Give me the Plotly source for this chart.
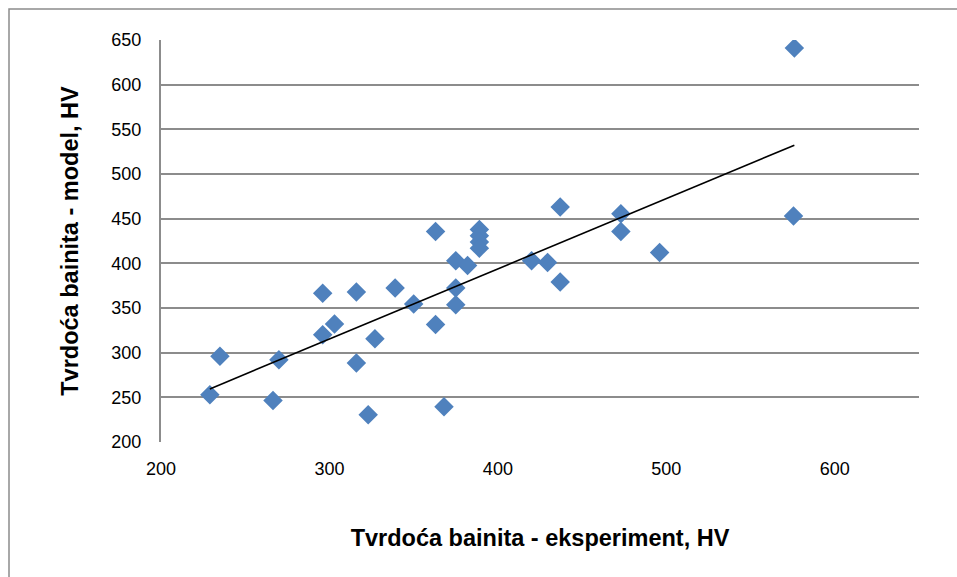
import numpy as np
import plotly.graph_objects as go

# Experimental vs. model bainite hardness (HV)
hv_experiment = [576, 575.5, 437, 473, 473, 496, 420, 429.5, 437, 363,
                 389, 389, 389, 389, 375, 382, 375, 375, 363, 368,
                 350, 339, 316, 296, 303, 296, 327, 316, 323, 270,
                 266.5, 235, 229]
hv_model = [641, 453, 463, 455.5, 435.5, 412, 403, 401, 379, 435.5,
            438, 431, 424, 417, 403, 397.5, 372.5, 353.5, 331.5, 239.5,
            354.5, 372.5, 368, 366.5, 332, 320, 315.5, 288.5, 230.5, 292,
            246.5, 296, 253]

x_ticks = [200, 300, 400, 500, 600]
y_ticks = [200, 250, 300, 350, 400, 450, 500, 550, 600, 650]

x_title = "Tvrdoća bainita - eksperiment, HV"
y_title = "Tvrdoća bainita - model, HV"

# Linear least-squares trend line over the measured range
slope, intercept = np.polyfit(hv_experiment, hv_model, 1)
trend_x = np.array([min(hv_experiment), max(hv_experiment)])
trend_y = slope * trend_x + intercept

GRID = "#8c8c8c"
FONT = "Liberation Sans"
TICK_FONT = dict(size=18, family=FONT, color="black")
TITLE_FONT = dict(size=23.5, family=FONT, color="black", weight="bold")

fig = go.Figure()
fig.add_trace(go.Scatter(
    x=hv_experiment, y=hv_model, mode="markers",
    marker=dict(symbol="diamond", size=15, color="#4f81bd",
                line=dict(width=0)),
    showlegend=False, hoverinfo="x+y",
))
fig.add_trace(go.Scatter(
    x=trend_x, y=trend_y, mode="lines",
    line=dict(color="black", width=1.6),
    showlegend=False, hoverinfo="skip",
))

fig.update_layout(
    width=957, height=577,
    margin=dict(l=161, r=38, t=40, b=135),
    paper_bgcolor="white", plot_bgcolor="white",
    font=dict(family=FONT, color="black"),
    xaxis=dict(
        range=[200, 650], tickvals=x_ticks, showgrid=False, zeroline=False,
        showline=False, ticks="outside", ticklen=10,
        tickcolor="rgba(0,0,0,0)", tickfont=TICK_FONT,
        title=dict(text=x_title, font=TITLE_FONT, standoff=51),
    ),
    yaxis=dict(
        range=[200, 650], tickvals=y_ticks, showgrid=True, gridcolor=GRID,
        gridwidth=2, zeroline=False, showline=True, linecolor=GRID,
        linewidth=2, ticks="outside", ticklen=14,
        tickcolor="rgba(0,0,0,0)", tickfont=TICK_FONT,
        title=dict(text=y_title, font=TITLE_FONT, standoff=26),
    ),
    shapes=[dict(
        type="rect", xref="paper", yref="paper",
        x0=(9 - 161) / 758, x1=(962 - 161) / 758,
        y0=(442 - 582) / 402, y1=(442 - 9) / 402,
        line=dict(color=GRID, width=1.5), fillcolor="rgba(0,0,0,0)",
        layer="below",
    )],
)

fig.write_html("out.html")
